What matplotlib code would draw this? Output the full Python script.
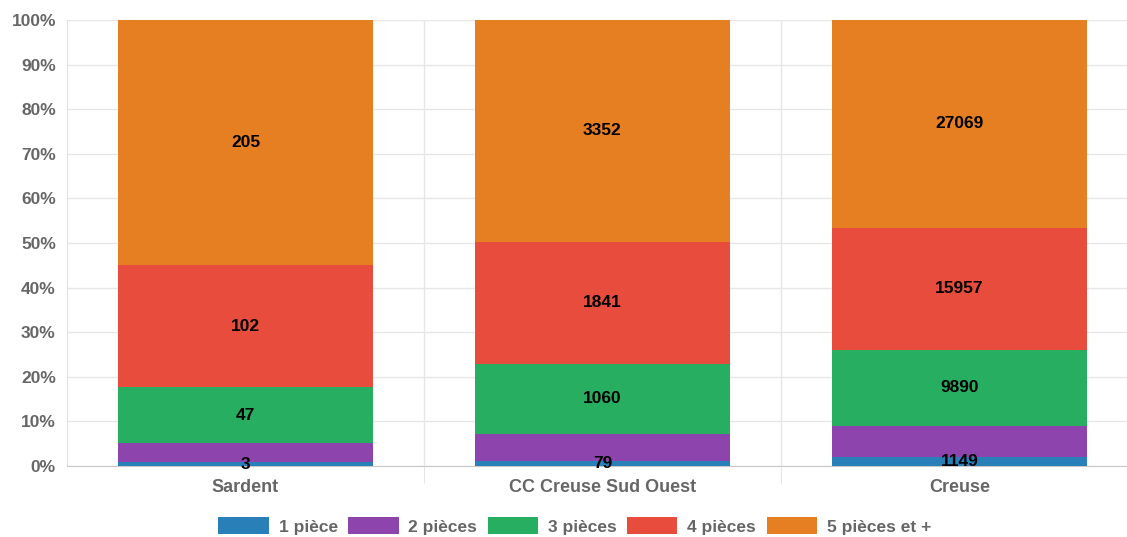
import numpy as np
import matplotlib
matplotlib.use("Agg")
from matplotlib import pyplot as plt

# données
categories = ["Sardent", "CC Creuse Sud Ouest", "Creuse"]
series_names = ["1 pièce", "2 pièces", "3 pièces", "4 pièces", "5 pièces et +"]
values = {
    "1 pièce": [3, 79, 1149],
    "2 pièces": [16, 410, 4100],
    "3 pièces": [47, 1060, 9890],
    "4 pièces": [102, 1841, 15957],
    "5 pièces et +": [205, 3352, 27069],
}
colors = ["#2980b9", "#8e44ad", "#27ae60", "#e74c3c", "#e67e22"]
shown_labels = ["1 pièce", "3 pièces", "4 pièces", "5 pièces et +"]
y_ticks = [0, 10, 20, 30, 40, 50, 60, 70, 80, 90, 100]

plt.rcParams['font.family'] = ['Liberation Sans', 'DejaVu Sans']

fig = plt.figure(figsize=(11.27, 5.37), dpi=100)
ax = fig.add_axes([67 / 1127, 71 / 537, 1060 / 1127, 446 / 537])

x = np.arange(len(categories))
totals = np.sum([values[s] for s in series_names], axis=0)
bottom = np.zeros(len(categories))
for name, color in zip(series_names, colors):
    pct = np.array(values[name]) / totals * 100
    ax.bar(x, pct, bottom=bottom, width=0.717, color=color, label=name, zorder=3)
    if name in shown_labels:
        for i in range(len(categories)):
            ax.text(x[i], bottom[i] + pct[i] / 2, str(values[name][i]),
                    ha="center", va="center", fontsize=12.5, fontweight="bold",
                    color="black", zorder=4)
    bottom += pct

# axes
ax.set_xlim(-0.5, 2.5 - 11 / 357)
ax.set_ylim(0, 100)
ax.set_yticks(y_ticks)
ax.set_yticklabels([f"{t}%" for t in y_ticks])
ax.set_xticks(x)
ax.set_xticklabels(categories)
ax.set_xticks([0.5, 1.5], minor=True)
ax.tick_params(axis="y", which="major", labelsize=12.5, colors="#666666", length=0, pad=8)
ax.tick_params(axis="x", which="major", labelsize=13, colors="#666666", length=0, pad=9)
ax.tick_params(axis="x", which="minor", length=12, color="#e0e0e0")
for lab in ax.get_xticklabels() + ax.get_yticklabels():
    lab.set_fontweight("bold")
    lab.set_color("#666666")

ax.grid(axis="y", color="#e6e6e6", linewidth=1, zorder=0)
ax.grid(axis="x", which="minor", color="#e6e6e6", linewidth=1, zorder=0)
for side in ["top", "right"]:
    ax.spines[side].set_visible(False)
ax.spines["left"].set_color("#e0e0e0")
ax.spines["bottom"].set_color("#c8c8c8")

leg = fig.legend(loc="center", bbox_to_anchor=(0.51, 1 - 526 / 537), ncol=5,
                 frameon=False, handlelength=2.9, handleheight=1.1,
                 handletextpad=0.57, columnspacing=0.6,
                 prop={"size": 12.5, "weight": "bold"})
for t in leg.get_texts():
    t.set_color("#666666")

fig.savefig("out.png", dpi=100)
